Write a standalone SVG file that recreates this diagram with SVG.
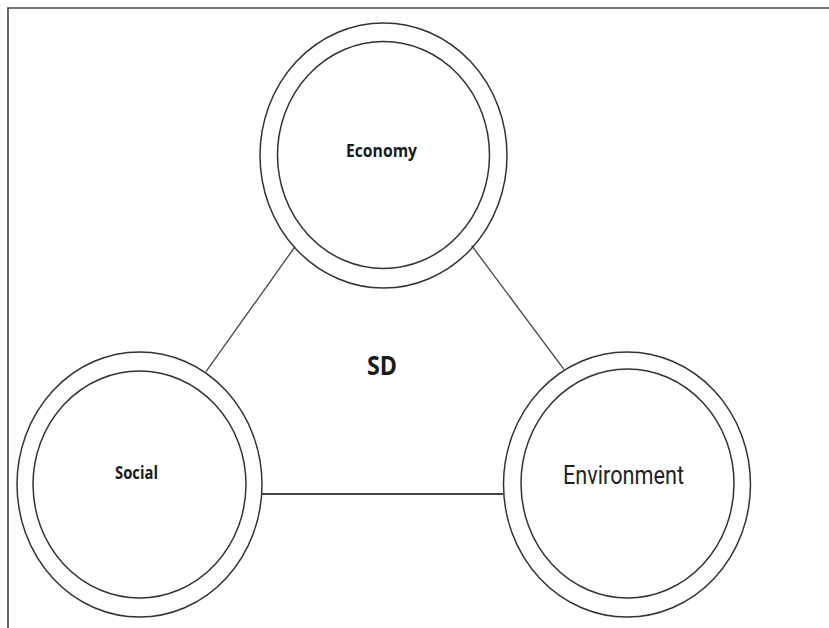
<svg xmlns="http://www.w3.org/2000/svg" width="829" height="628" viewBox="0 0 829 628">
<style>
.ring{fill:none;stroke:#333;stroke-width:1.5}
.conn{stroke:#444;stroke-width:1.3;fill:none}
.lbl{font-family:"Open Sans","Liberation Sans",sans-serif;font-weight:bold;fill:#1a1a1a;text-anchor:middle}
.env{font-family:Roboto,"Liberation Sans",sans-serif;font-weight:normal;fill:#222;text-anchor:middle}
</style>
<rect width="829" height="628" fill="#fff"/>
<path d="M8 628 V8 H829" fill="none" stroke="#444" stroke-width="1.6"/>
<g id="connectors">
<line class="conn" x1="295" y1="246.7" x2="206" y2="371.7"/>
<line class="conn" x1="471.7" y1="245.7" x2="564" y2="369.3"/>
<line class="conn" x1="262" y1="494" x2="503" y2="494" style="stroke-width:1.8"/>
</g>
<g id="economy">
<ellipse class="ring" cx="383.5" cy="155.5" rx="123.5" ry="132.5"/>
<ellipse class="ring" cx="383.5" cy="155" rx="106" ry="113.5"/>
<text class="lbl" x="381.5" y="156.5" font-size="17" textLength="71" lengthAdjust="spacingAndGlyphs">Economy</text>
</g>
<g id="social">
<ellipse class="ring" cx="139.5" cy="484.5" rx="122.5" ry="132.5"/>
<ellipse class="ring" cx="139.5" cy="484.5" rx="106.5" ry="113.5"/>
<text class="lbl" x="136.5" y="479" font-size="17" textLength="43" lengthAdjust="spacingAndGlyphs">Social</text>
</g>
<g id="environment">
<ellipse class="ring" cx="627" cy="484.5" rx="123.5" ry="132.5"/>
<ellipse class="ring" cx="627.5" cy="483.5" rx="106.5" ry="114.5"/>
<text class="env" x="623.5" y="484" font-size="26" textLength="121" lengthAdjust="spacingAndGlyphs">Environment</text>
</g>
<g id="sd">
<text class="lbl" x="382" y="375" font-size="27" textLength="30" lengthAdjust="spacingAndGlyphs">SD</text>
</g>
</svg>
